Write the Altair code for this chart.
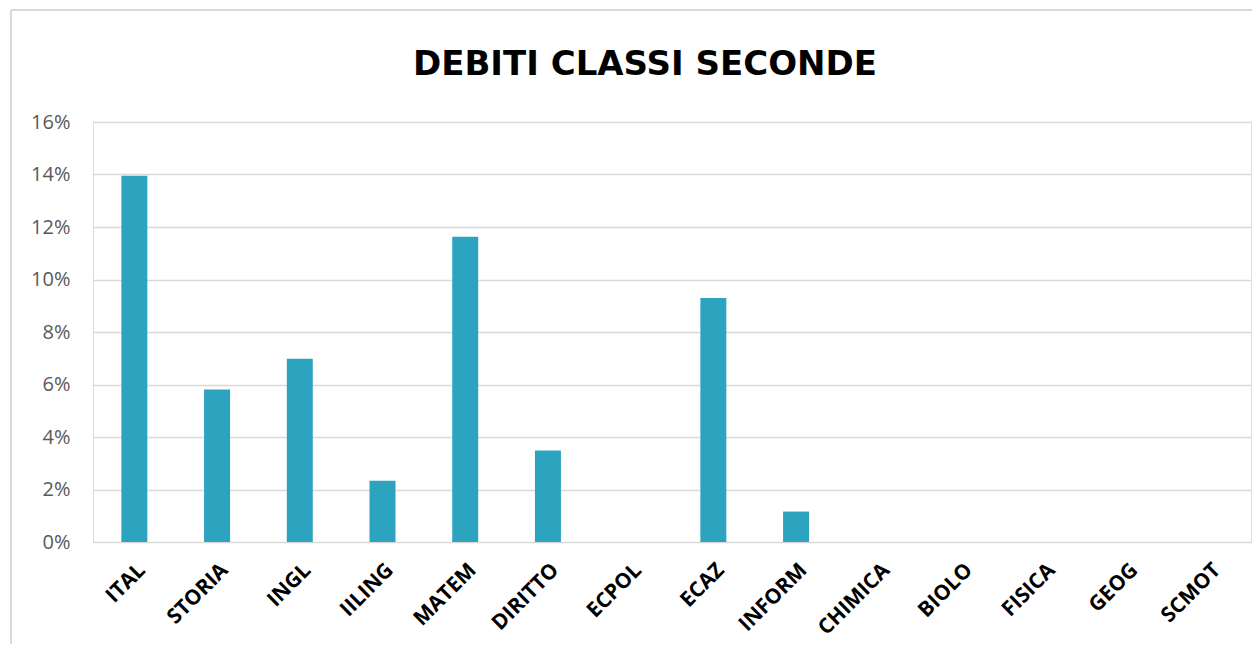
import altair as alt
import pandas as pd

categories = ["ITAL", "STORIA", "INGL", "IILING", "MATEM", "DIRITTO", "ECPOL",
              "ECAZ", "INFORM", "CHIMICA", "BIOLO", "FISICA", "GEOG", "SCMOT"]
values = [0.1395, 0.0581, 0.0698, 0.0233, 0.1163, 0.0349, 0.0,
          0.0930, 0.0116, 0.0, 0.0, 0.0, 0.0, 0.0]
y_ticks = [0, 0.02, 0.04, 0.06, 0.08, 0.10, 0.12, 0.14, 0.16]

df = pd.DataFrame({"materia": categories, "valore": values})

FONT = "Open Sans"

bars = alt.Chart(df).mark_bar(color="#2CA3BF").encode(
    x=alt.X("materia:N", sort=categories, title=None,
            scale=alt.Scale(paddingInner=0.686, paddingOuter=0.343),
            axis=alt.Axis(labelAngle=-45, labelFont=FONT, labelFontSize=21,
                          labelFontWeight="bold", labelColor="#000000",
                          labelPadding=17, ticks=False, domain=False, grid=False)),
    y=alt.Y("valore:Q", title=None,
            scale=alt.Scale(domain=[0, 0.16], nice=False),
            axis=alt.Axis(values=y_ticks, format=".0%", labelFont=FONT,
                          labelFontSize=20, labelColor="#595959", labelPadding=23,
                          ticks=False, domain=False, grid=True,
                          gridColor="#D9D9D9", gridWidth=1.3)),
)

frame_left = alt.Chart(df).mark_rule(color="#D9D9D9", strokeWidth=1.5).encode(
    x=alt.value(-82), y=alt.value(-112), y2=alt.value(540))
frame_top = alt.Chart(df).mark_rule(color="#D9D9D9", strokeWidth=1.5).encode(
    x=alt.value(-82), x2=alt.value(1200), y=alt.value(-112))

chart = alt.layer(frame_left, frame_top, bars).properties(
    width=1158, height=420,
    title=alt.TitleParams("DEBITI CLASSI SECONDE", font="DejaVu Sans", fontSize=34,
                          fontWeight="bold", color="#000000", anchor="middle",
                          offset=-73, dx=-27),
    padding={"left": 85, "top": 114, "right": 1, "bottom": 102},
    autosize=alt.AutoSizeParams(type="none"),
).configure_view(stroke="transparent", strokeWidth=0).configure_axis(domain=False).configure(background="white")

chart.save("out.html", embed_options={"renderer": "svg", "actions": False})
